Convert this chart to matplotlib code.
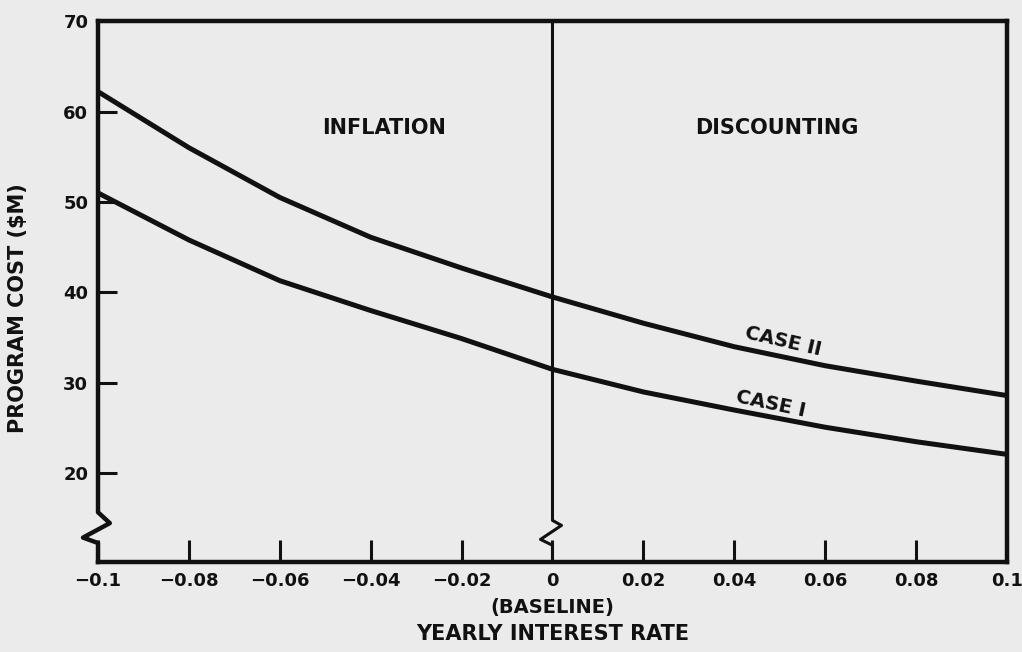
"""
Program cost vs yearly interest rate (inflation / discounting), scanned-report style.
"""
import matplotlib
matplotlib.use('Agg')
import matplotlib.pyplot as plt
import matplotlib.transforms as mtransforms

# data
rates = [-0.1, -0.08, -0.06, -0.04, -0.02, 0.0, 0.02, 0.04, 0.06, 0.08, 0.1]
case_2 = [62.2, 56.0, 50.5, 46.1, 42.7, 39.5, 36.6, 34.0, 31.9, 30.2, 28.6]
case_1 = [51.0, 45.8, 41.3, 38.0, 34.9, 31.5, 29.0, 27.0, 25.1, 23.5, 22.1]

x_ticks = [-0.1, -0.08, -0.06, -0.04, -0.02, 0.0, 0.02, 0.04, 0.06, 0.08, 0.1]
x_tick_labels = ['\u22120.1', '\u22120.08', '\u22120.06', '\u22120.04', '\u22120.02',
                 '0', '0.02', '0.04', '0.06', '0.08', '0.1']
y_ticks = [20, 30, 40, 50, 60, 70]

INK = '#111111'
PAPER = '#ebebeb'
plt.rcParams['font.family'] = ['DejaVu Sans']
plt.rcParams['font.weight'] = 'bold'

fig = plt.figure(figsize=(10.22, 6.52), dpi=100)
fig.patch.set_facecolor(PAPER)
ax = fig.add_axes([0.0959, 0.138, 0.8894, 0.8297])
ax.set_facecolor(PAPER)

ax.set_xlim(-0.1, 0.1)
ax.set_ylim(10.2, 70)

# curves
for vals in (case_2, case_1):
    ax.plot(rates, vals, color=INK, linewidth=3.6,
            solid_joinstyle='round', solid_capstyle='butt', zorder=3)

# spines: left spine drawn by hand to include the axis break
for side in ['top', 'right', 'bottom']:
    ax.spines[side].set_linewidth(3.2)
    ax.spines[side].set_color(INK)
ax.spines['left'].set_visible(False)

trans_left = mtransforms.blended_transform_factory(ax.transAxes, ax.transData)
ax.plot([0, 0, 0.013, -0.0165, 0, 0],
        [70, 15.7, 14.5, 12.9, 12.3, 10.2],
        color=INK, linewidth=3.2, transform=trans_left, clip_on=False, zorder=4)

# baseline (zero rate) divider with its own break
zx = 0.5
ax.plot([zx, zx, zx + 0.0099, zx - 0.0132, zx, zx],
        [70, 14.8, 14.25, 12.7, 12.05, 10.2],
        color=INK, linewidth=2.2, transform=trans_left, clip_on=False, zorder=4)

# ticks
ax.set_xticks(x_ticks)
ax.set_xticklabels(x_tick_labels)
ax.set_yticks(y_ticks)
ax.tick_params(axis='x', direction='in', length=16, width=2.2, pad=7,
               labelsize=13, colors=INK)
ax.tick_params(axis='y', direction='in', length=14, width=2.2, pad=7,
               labelsize=13, colors=INK)
for lbl in ax.get_xticklabels() + ax.get_yticklabels():
    lbl.set_fontweight('bold')

# region labels
ax.text(-0.037, 58.2, 'INFLATION', ha='center', va='center',
        fontsize=15, fontweight='bold', color=INK)
ax.text(0.0494, 58.2, 'DISCOUNTING', ha='center', va='center',
        fontsize=15, fontweight='bold', color=INK)

# curve labels
ax.text(0.0507, 34.6, 'CASE II', ha='center', va='center', rotation=-13,
        fontsize=14, fontweight='bold', color=INK)
ax.text(0.0479, 27.7, 'CASE I', ha='center', va='center', rotation=-12,
        fontsize=14, fontweight='bold', color=INK)

# axis titles
fig.text(0.540, 0.069, '(BASELINE)', ha='center', va='center',
         fontsize=14, fontweight='bold', color=INK)
fig.text(0.541, 0.0276, 'YEARLY INTEREST RATE', ha='center', va='center',
         fontsize=15, fontweight='bold', color=INK)
fig.text(0.0176, 0.527, 'PROGRAM COST ($M)', ha='center', va='center',
         rotation=90, fontsize=15, fontweight='bold', color=INK)

fig.savefig('out.png', dpi=100, facecolor=fig.get_facecolor())
